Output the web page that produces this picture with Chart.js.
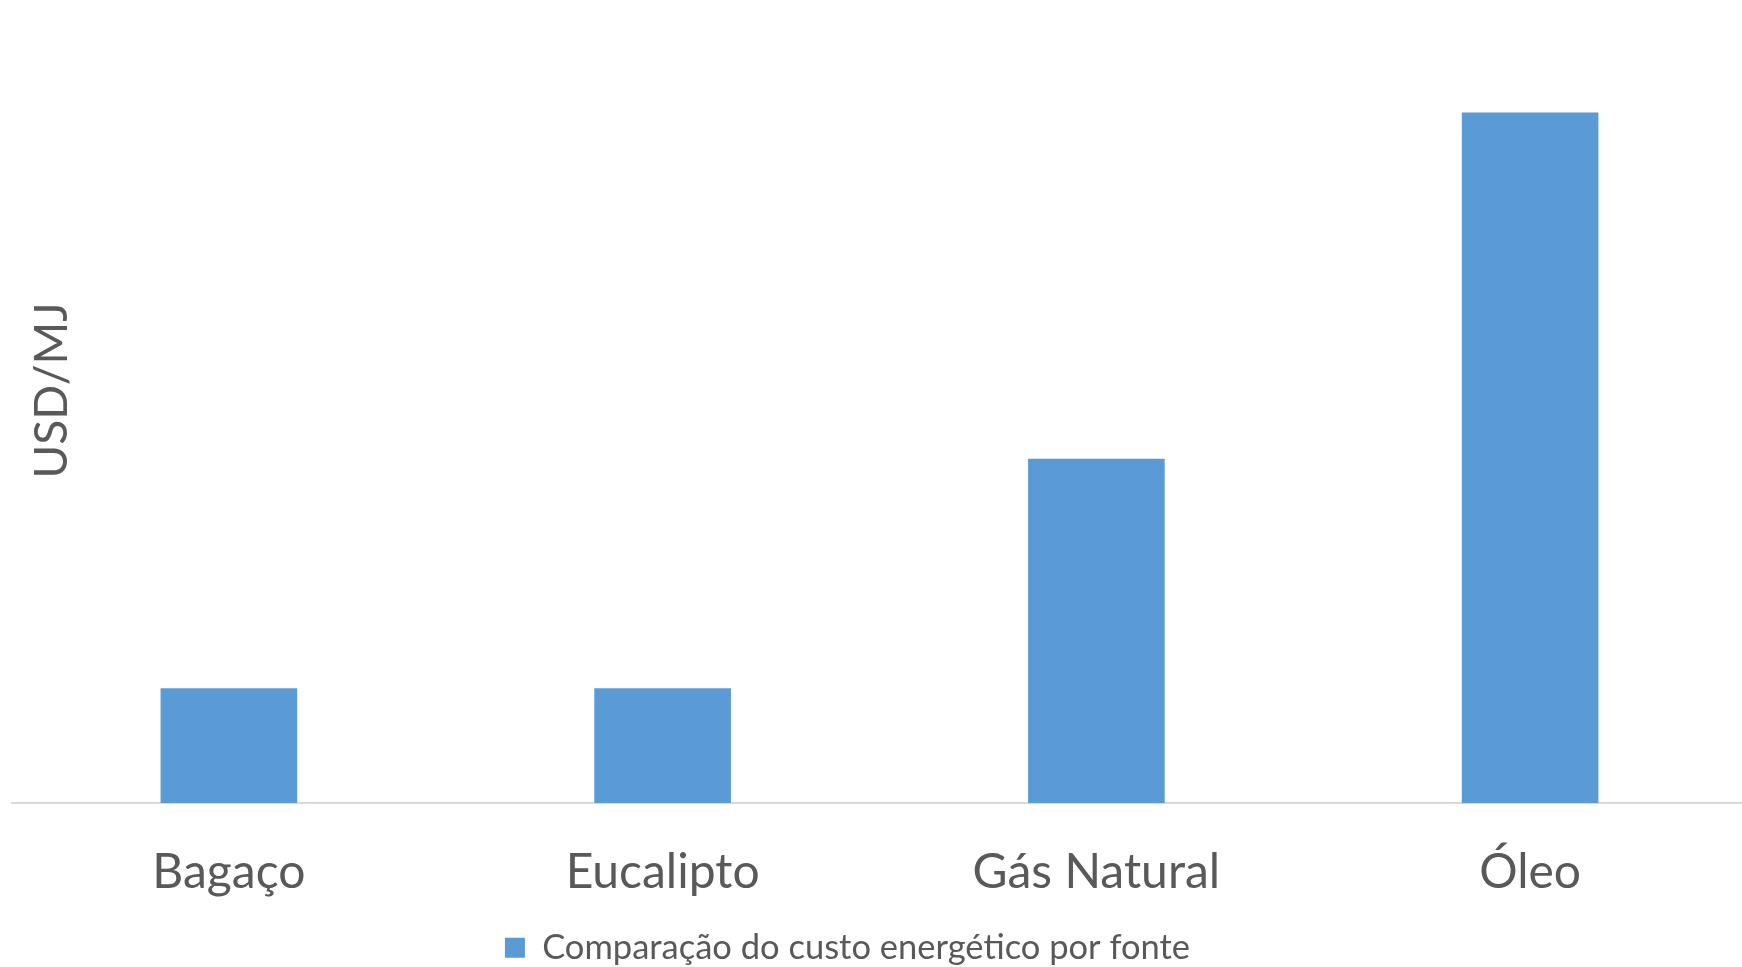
<!DOCTYPE html>
<html>
<head>
<meta charset="utf-8">
<script src="https://cdn.jsdelivr.net/npm/chart.js@4/dist/chart.umd.min.js"></script>
<style>
    html, body { margin: 0; padding: 0; background: #fff; overflow: hidden; }
    /* plot runs a few pixels past the right edge, as in the original */
    #wrap { width: 1747px; height: 967px; }
</style>
</head>
<body>
<div id="wrap"><canvas id="custo"></canvas></div>
<script>
// ==============================================================
// Comparação do custo energético por fonte
// ==============================================================
const fontes = ['Bagaço', 'Eucalipto', 'Gás Natural', 'Óleo'];
const custo = [0.010, 0.010, 0.030, 0.0602];
const serieNome = 'Comparação do custo energético por fonte';
const eixoY = 'USD/MJ';

const textColor = '#595959';
const barColor = '#5b9bd5';

// y axis title drawn inside the plot area, like the original
const tituloY = {
    id: 'tituloY',
    afterDraw(chart) {
        const ctx = chart.ctx;
        const area = chart.chartArea;
        ctx.save();
        ctx.translate(area.left + 40, (area.top + area.bottom) / 2 - 11);
        ctx.rotate(-Math.PI / 2);
        ctx.fillStyle = textColor;
        ctx.font = '46px Lato';
        ctx.textAlign = 'center';
        ctx.textBaseline = 'middle';
        ctx.fillText(eixoY, 0, 0);
        ctx.restore();
    }
};

// the legend in the original sits a bit left of centre
const legendaEsq = {
    id: 'legendaEsq',
    afterLayout(chart) {
        chart.legend.left -= 32;
        chart.legend.right -= 32;
    }
};

new Chart(document.getElementById('custo'), {
    type: 'bar',
    data: {
        labels: fontes,
        datasets: [{
            label: serieNome,
            data: custo,
            backgroundColor: barColor,
            barPercentage: 0.315,
            categoryPercentage: 1
        }]
    },
    options: {
        responsive: true,
        maintainAspectRatio: false,
        animation: false,
        layout: {
            padding: { left: 12, right: 0, top: 0, bottom: -8 }
        },
        plugins: {
            legend: {
                position: 'bottom',
                labels: {
                    color: textColor,
                    font: { family: 'Lato', size: 34.5 },
                    boxWidth: 20,
                    boxHeight: 20,
                    padding: 0
                }
            },
            tooltip: { enabled: false }
        },
        scales: {
            x: {
                grid: { display: false, drawTicks: true, tickLength: 12 },
                border: { display: true, color: '#d9d9d9', width: 2 },
                ticks: {
                    color: textColor,
                    padding: 29,
                    font: { family: 'Lato', size: 48, lineHeight: 1.2 }
                }
            },
            y: {
                display: false,
                min: 0,
                max: 0.07
            }
        }
    },
    plugins: [tituloY, legendaEsq]
});
</script>
</body>
</html>
